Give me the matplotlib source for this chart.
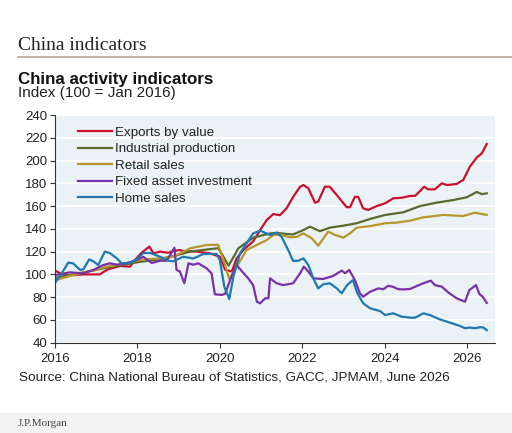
import matplotlib.pyplot as plt
from matplotlib.patches import Rectangle
from matplotlib.lines import Line2D

# series, x in decimal years
exp_x = [2016.02, 2016.12, 2016.3, 2016.7, 2017.09, 2017.17, 2017.29, 2017.58, 2017.82, 2017.94,
         2018.10, 2018.29, 2018.39, 2018.55, 2018.75, 2018.87, 2019.03, 2019.11, 2019.44, 2019.76,
         2020.00, 2020.13, 2020.29, 2020.41, 2020.57, 2020.81, 2020.98, 2021.14, 2021.30, 2021.46,
         2021.54, 2021.62, 2021.78, 2021.95, 2022.03, 2022.15, 2022.31, 2022.39, 2022.55, 2022.67,
         2022.84, 2023.08, 2023.16, 2023.28, 2023.36, 2023.48, 2023.60, 2023.81, 2024.01, 2024.21,
         2024.41, 2024.62, 2024.74, 2024.86, 2024.96, 2025.06, 2025.22, 2025.39, 2025.51, 2025.75,
         2025.91, 2026.07, 2026.24, 2026.36, 2026.48]
exp_y = [103, 101, 99, 100, 100, 102, 104.5, 107.4, 106.8, 112.6,
         119, 124.4, 118.5, 120, 119, 120.5, 121.4, 120.5, 120, 118.5,
         115.6, 104, 102.5, 114, 121.4, 129, 139, 147.8, 153, 152,
         155, 158, 168, 177, 178.5, 175.6, 163, 164, 177, 177,
         169.7, 159, 159, 168.2, 168, 158, 156.6, 160, 162.4, 166.8,
         167.3, 168.9, 169, 173.2, 177, 174.7, 174.7, 180, 178.5, 179.4,
         183, 194.6, 202.8, 206.3, 214.5]

ip_x = [2016.02, 2016.44, 2017.0, 2017.5, 2018.06, 2018.5, 2018.87, 2019.28, 2019.6, 2019.96,
        2020.05, 2020.21, 2020.33, 2020.45, 2020.81, 2021.0, 2021.22, 2021.38, 2021.62, 2021.78,
        2022.03, 2022.19, 2022.30, 2022.43, 2022.67, 2023.00, 2023.32, 2023.65, 2024.01, 2024.45,
        2024.86, 2025.26, 2025.67, 2025.99, 2026.24, 2026.36, 2026.48]
ip_y = [97, 100, 104, 107.5, 111, 113, 116, 120, 121.5, 123,
        118, 107.7, 115, 122.9, 132.2, 134, 136, 136.5, 135.5, 135.1,
        139, 141.9, 140, 138, 141, 142.8, 144.9, 148.7, 152.2, 154.5,
        160, 163, 165.3, 167.7, 172.4, 170.5, 171.2]

rs_x = [2016.02, 2016.44, 2017.0, 2017.25, 2017.7, 2018.06, 2018.5, 2018.87, 2019.28, 2019.68,
        2019.96, 2020.09, 2020.23, 2020.41, 2020.65, 2021.14, 2021.30, 2021.46, 2021.70, 2021.87,
        2022.03, 2022.23, 2022.39, 2022.63, 2022.80, 2023.00, 2023.16, 2023.32, 2023.65, 2024.01,
        2024.29, 2024.62, 2024.94, 2025.42, 2025.91, 2026.19, 2026.48]
rs_y = [95, 99.5, 104, 106.8, 109.5, 112.6, 114, 115.5, 122.9, 125.8,
        126, 112.6, 96, 106.8, 121.4, 130.2, 134.6, 135, 132.6, 133,
        136, 131.8, 125.2, 137.5, 134.6, 132.3, 136, 141, 142.4, 144.9,
        145.5, 147.2, 150.1, 152.2, 151.3, 154.2, 152.2]

fai_x = [2016.02, 2016.36, 2016.69, 2016.93, 2017.17, 2017.33, 2017.50, 2017.74, 2017.98, 2018.14,
         2018.35, 2018.55, 2018.71, 2018.90, 2018.95, 2019.03, 2019.14, 2019.24, 2019.36, 2019.48,
         2019.68, 2019.80, 2019.88, 2020.05, 2020.13, 2020.25, 2020.41, 2020.53, 2020.69, 2020.81,
         2020.90, 2020.98, 2021.10, 2021.18, 2021.22, 2021.38, 2021.54, 2021.78, 2021.95, 2022.04,
         2022.15, 2022.27, 2022.51, 2022.75, 2022.96, 2023.04, 2023.14, 2023.28, 2023.40, 2023.48,
         2023.65, 2023.85, 2023.97, 2024.09, 2024.21, 2024.33, 2024.45, 2024.62, 2024.78, 2024.94,
         2025.12, 2025.22, 2025.39, 2025.55, 2025.75, 2025.95, 2026.06, 2026.22, 2026.30, 2026.38,
         2026.48]
fai_y = [99.5, 101.8, 100.9, 103.9, 108.2, 109.7, 108.5, 109.7, 112.6, 115.5,
         110, 112, 112, 123.4, 103.9, 102.7, 92.2, 109.7, 108.5, 109.7,
         105.3, 101, 82.5, 82, 83, 95, 108.2, 103, 96.5, 90.6,
         76, 74.6, 79, 79, 96.5, 92.2, 90.6, 92.2, 101, 106.8,
         102.4, 96.5, 96, 98.6, 103.3, 101, 103.9, 95, 83.4, 80.4,
         84.8, 87.7, 87, 90, 89, 87, 86.8, 87.2, 89.8, 92.2,
         94.5, 90.6, 89.2, 84, 79, 76, 86.3, 90.6, 82.8, 80.4,
         75]

hs_x = [2016.02, 2016.14, 2016.32, 2016.44, 2016.61, 2016.69, 2016.83, 2016.93, 2017.05, 2017.21,
        2017.33, 2017.50, 2017.62, 2017.82, 2017.98, 2018.14, 2018.31, 2018.55, 2018.75, 2018.87,
        2019.11, 2019.36, 2019.60, 2019.92, 2020.00, 2020.11, 2020.23, 2020.33, 2020.49, 2020.81,
        2020.98, 2021.22, 2021.38, 2021.50, 2021.66, 2021.78, 2021.91, 2022.03, 2022.15, 2022.27,
        2022.39, 2022.51, 2022.67, 2022.84, 2022.96, 2023.09, 2023.23, 2023.34, 2023.48, 2023.65,
        2023.89, 2024.01, 2024.21, 2024.41, 2024.62, 2024.74, 2024.94, 2025.10, 2025.34, 2025.59,
        2025.83, 2025.95, 2026.07, 2026.19, 2026.32, 2026.40, 2026.48]
hs_y = [93.6, 99.5, 110.3, 109.7, 103.9, 104.5, 113.2, 111.5, 108.2, 120,
        118.8, 114.1, 109.7, 110.3, 113.2, 118.8, 118.8, 115.5, 112, 111.5,
        115.5, 114, 117.9, 118, 112.6, 89.2, 78.4, 98, 118.5, 136,
        138.4, 134.6, 136.6, 133, 121.4, 111.8, 112, 114.1, 108.2, 96.5,
        87.7, 91.3, 92.2, 87.7, 83.4, 90.6, 95, 83.4, 74.6, 70.2,
        67.8, 64.3, 65.8, 62.9, 62, 62, 65.8, 64.3, 60.5, 57.6,
        54.7, 52.7, 53.3, 52.7, 53.6, 53.3, 51]

labels = ["Exports by value", "Industrial production", "Retail sales",
          "Fixed asset investment", "Home sales"]
colors = ["#c8102e", "#596b2a", "#b8962e", "#7b2fa8", "#1f78b0"]
series = [(exp_x, exp_y), (ip_x, ip_y), (rs_x, rs_y), (fai_x, fai_y), (hs_x, hs_y)]

year_ticks = [2016, 2018, 2020, 2022, 2024, 2026]
y_ticks = list(range(40, 241, 20))

W, H = 512, 433
fig = plt.figure(figsize=(W / 100, H / 100), dpi=100)
fig.patch.set_facecolor("white")
plt.rcParams["font.family"] = ["Liberation Sans", "DejaVu Sans"]

ax = fig.add_axes([55 / W, 1 - 342.7 / H, 440 / W, 227.7 / H])
ax.set_facecolor("#ebf2f5")
for (x, y), c, lab in zip(series, colors, labels):
    ax.plot(x, y, color=c, lw=1.6, label=lab, solid_joinstyle="round")

ax.set_xlim(2016, 2026.68)
ax.set_ylim(40, 240)
ax.set_yticks(y_ticks)
ax.set_xticks(year_ticks)
ax.set_xticklabels([str(t) for t in year_ticks])
ax.grid(axis="y", color="white", lw=1.3)
ax.set_axisbelow(True)
for s in ["top", "right"]:
    ax.spines[s].set_visible(False)
for s in ["left", "bottom"]:
    ax.spines[s].set_color("#333333")
    ax.spines[s].set_linewidth(0.8)
ax.tick_params(axis="both", direction="out", length=3.5, width=0.8, color="#333333",
               labelsize=9.5, labelcolor="#222222")
ax.tick_params(axis="x", pad=4)
ax.tick_params(axis="y", pad=2)

leg = ax.legend(loc="upper left", bbox_to_anchor=(0.032, 0.99), frameon=False,
                fontsize=9.6, handlelength=2.5, handletextpad=0.25, labelspacing=0.31,
                borderpad=0.2)
for t in leg.get_texts():
    t.set_color("#222222")

# header and footer texts
fig.text(18 / W, 1 - 50 / H, "China indicators", family="Liberation Serif",
         fontsize=14, color="#222222", va="baseline")
fig.add_artist(Line2D([18 / W, 1], [1 - 56.7 / H, 1 - 56.7 / H], color="#b8a696", lw=1.2))
fig.text(18 / W, 1 - 84 / H, "China activity indicators", fontsize=12.2,
         fontweight="bold", color="#111111", va="baseline")
fig.text(18 / W, 1 - 97.5 / H, "Index (100 = Jan 2016)", fontsize=11,
         color="#222222", va="baseline")
fig.text(19 / W, 1 - 381 / H, "Source: China National Bureau of Statistics, GACC, JPMAM, June 2026",
         fontsize=9.7, color="#222222", va="baseline")

fig.add_artist(Rectangle((0, 0), 1, 20.3 / H, transform=fig.transFigure,
                         facecolor="#f2f2f2", edgecolor="none"))
fig.text(18 / W, 1 - 424 / H, "J.P.Morgan", family="Liberation Serif", fontsize=8,
         color="#444444", va="center")

fig.savefig("out.png", dpi=100)
